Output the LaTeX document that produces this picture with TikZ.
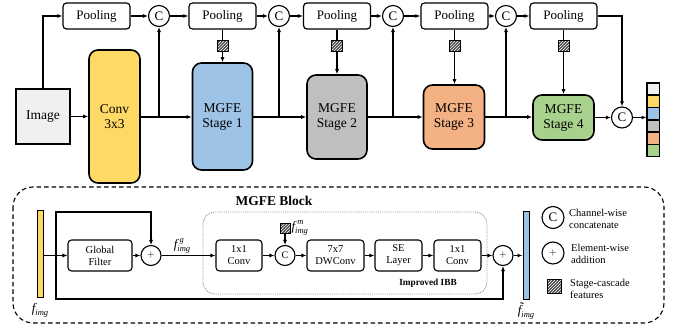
\documentclass[tikz,border=0pt]{standalone}
\usepackage{fontspec}
\setmainfont{Liberation Serif}
\usetikzlibrary{arrows.meta,patterns,positioning}
\definecolor{cyel}{HTML}{FFD966}
\definecolor{cblue}{HTML}{9DC3E6}
\definecolor{cgray}{HTML}{BFBFBF}
\definecolor{corange}{HTML}{F4B183}
\definecolor{cgreen}{HTML}{A9D18E}
\definecolor{cimg}{HTML}{F0F0F0}
\definecolor{cibb}{HTML}{8497B0}
\newcommand{\scrtxt}[1]{{\fontsize{8.5}{9}\selectfont\itshape #1}}
\newcommand{\fsub}[2]{{\itshape #1}\raisebox{-2.8pt}{\scrtxt{#2}}}
\newcommand{\fsubsup}[3]{{\itshape #1}\makebox[0pt][l]{\hspace{2.2pt}\raisebox{6pt}{\scrtxt{#2}}}\raisebox{-2.8pt}{\scrtxt{#3}}}
\tikzset{
  arr/.style={-{Latex[length=5pt,width=4pt]}, line width=1.1pt},
  ln/.style={line width=1.1pt},
  poolbox/.style={draw, line width=1.2pt, rounded corners=3.5pt, minimum width=67pt, minimum height=26pt, inner sep=0pt, font=\fontsize{13}{15}\selectfont},
  stagebox/.style={draw, line width=1.6pt, rounded corners=9pt, inner sep=0pt, align=center, font=\fontsize{13.5}{15}\selectfont},
  circ/.style={draw, circle, line width=1.1pt, minimum size=21pt, inner sep=0pt, font=\fontsize{13}{15}\selectfont},
  scirc/.style={draw, circle, line width=1.1pt, minimum size=20pt, inner sep=0pt, font=\fontsize{10}{12}\selectfont},
  hatch/.style={draw, line width=0.7pt, minimum size=11pt, inner sep=0pt, preaction={fill=black!70}, pattern=north east lines, pattern color=white},
  blk/.style={draw, line width=1.1pt, rounded corners=3.5pt, minimum height=31pt, inner sep=0pt, align=center, font=\fontsize{10.5}{12}\selectfont},
  cell/.style={draw, line width=0.8pt, minimum width=12pt, minimum height=11.5pt, inner sep=0pt},
  legtxt/.style={anchor=west, align=left, font=\fontsize{10.5}{12}\selectfont, inner sep=0pt},
  flab/.style={font=\fontsize{13}{14}\selectfont, inner sep=1pt},
}
\begin{document}
\begin{tikzpicture}[x=1pt,y=-1pt]
\useasboundingbox (0,0) rectangle (681,331);
% top row
\node[poolbox] (p1) at (96.5,16) {Pooling};
\node[poolbox] (p2) at (222.5,16) {Pooling};
\node[poolbox] (p3) at (337,16) {Pooling};
\node[poolbox] (p4) at (454.5,16) {Pooling};
\node[poolbox] (p5) at (563.5,16) {Pooling};
\node[circ] (c1) at (159,16) {C};
\node[circ] (c2) at (279,16) {C};
\node[circ] (c3) at (393,16) {C};
\node[circ] (c4) at (506,16) {C};
% main row
\node[draw, line width=1.4pt, fill=cimg, minimum width=54pt, minimum height=55pt, inner sep=0pt, font=\fontsize{13.5}{15}\selectfont] (img) at (43,116.5) {Image};
\node[stagebox, fill=cyel, minimum width=51pt, minimum height=133pt] (conv) at (114.5,116.5) {Conv\\3x3};
\node[stagebox, fill=cblue, minimum width=60pt, minimum height=107pt] (s1) at (222.5,116.5) {MGFE\\Stage 1};
\node[stagebox, fill=cgray, minimum width=60pt, minimum height=84pt] (s2) at (337,117) {MGFE\\Stage 2};
\node[stagebox, fill=corange, minimum width=61pt, minimum height=64pt] (s3) at (454,117) {MGFE\\Stage 3};
\node[stagebox, fill=cgreen, minimum width=61pt, minimum height=45pt] (s4) at (563.5,117.5) {MGFE\\Stage 4};
\node[circ] (cf) at (622,117.5) {C};
\node[hatch] (h1) at (222.5,46) {};
\node[hatch] (h2) at (337,46) {};
\node[hatch] (h3) at (454.5,46) {};
\node[hatch] (h4) at (563.5,46) {};
% output stack
\node[cell, fill=cimg] (o1) at (653,89) {};
\node[cell, fill=cyel, below=0pt of o1] (o2) {};
\node[cell, fill=cblue, below=0pt of o2] (o3) {};
\node[cell, fill=cgray, below=0pt of o3] (o4) {};
\node[cell, fill=corange, below=0pt of o4] (o5) {};
\node[cell, fill=cgreen, below=0pt of o5] (o6) {};
\draw[line width=1.4pt] (o1.north west) rectangle (o6.south east);
\coordinate (stk) at (o1.west |- cf);
% connectors top
\draw[arr] (img.north) |- (p1.west);
\draw[arr] (p1) -- (c1);
\draw[arr] (c1) -- (p2);
\draw[arr] (p2) -- (c2);
\draw[arr] (c2) -- (p3);
\draw[arr] (p3) -- (c3);
\draw[arr] (c3) -- (p4);
\draw[arr] (p4) -- (c4);
\draw[arr] (c4) -- (p5);
\draw[arr] (p5.east) -| (cf.north);
\foreach \p/\h/\s in {p2/h1/s1,p3/h2/s2,p4/h3/s3,p5/h4/s4}{
  \draw[ln] (\h.north |- \p.south) -- (\h.north);
  \draw[arr] (\h.south) -- (\h.south |- \s.north);
}
% main flow
\draw[arr] (img.east) -- (img.east -| conv.west);
\draw[arr] (conv.east |- 0,117) -- (s1.west |- 0,117);
\draw[arr] (s1.east |- 0,117) -- (s2.west |- 0,117);
\draw[arr] (s2.east |- 0,117) -- (s3.west |- 0,117);
\draw[arr] (s3.east |- 0,117) -- (s4.west |- 0,117);
\draw[arr] (s4.east |- cf) -- (cf.west);
\draw[arr] (cf.east) -- (stk);
\coordinate (b1) at (c1 |- 0,117);
\coordinate (b2) at (c2 |- 0,117);
\coordinate (b3) at (c3 |- 0,117);
\coordinate (b4) at (c4 |- 0,117);
\draw[arr] (b1) -- (c1.south);
\draw[arr] (b2) -- (c2.south);
\draw[arr] (b3) -- (c3.south);
\draw[arr] (b4) -- (c4.south);
% ================= bottom block
\draw[line width=1.1pt, dash pattern=on 4.5pt off 3pt, rounded corners=20pt] (13,187) rectangle (664,323);
\node[font=\bfseries\fontsize{13.5}{15}\selectfont] (title) at (274,201) {MGFE Block};
\draw[densely dotted, cibb, line width=0.9pt, rounded corners=12pt] (203,212) rectangle (487,294);
\node[font=\bfseries\fontsize{9.3}{11}\selectfont] (ibb) at (428,283) {Improved IBB};
\node[draw, line width=1pt, fill=cyel, minimum width=6pt, minimum height=87pt, inner sep=0pt] (fb) at (40,254.5) {};
\node[flab, anchor=north] (fbl) at (40,302) {\fsub{f}{img}};
\node[blk, minimum width=64pt] (gf) at (100,255.5) {Global\\Filter};
\node[scirc] (a1) at (151,255.5) {$+$};
\node[blk, minimum width=46pt] (k1) at (239,255.5) {1x1\\Conv};
\node[scirc] (cb) at (285,255.5) {C};
\node[blk, minimum width=57pt] (dw) at (335.5,255.5) {7x7\\DWConv};
\node[blk, minimum width=47pt] (se) at (398.5,255.5) {SE\\Layer};
\node[blk, minimum width=47pt] (k2) at (457.5,255.5) {1x1\\Conv};
\node[scirc] (a2) at (503,255.5) {$+$};
\node[draw, line width=1pt, fill=cblue, minimum width=6pt, minimum height=88pt, inner sep=0pt] (bb) at (526,256) {};
\node[flab, anchor=north] (bbl) at (526,302) {\fsub{\~{f}}{img}};
\node[hatch, minimum size=10pt] (hm) at (285,228) {};
\node[flab, anchor=west] (hml) at (hm.east) {\fsubsup{f}{m}{img}};
% bottom connectors
\coordinate (sp) at (56,255.5);
\draw[ln] (fb.east |- sp) -- (sp);
\draw[arr] (sp) -- (gf.west);
\draw[arr] (sp) |- (110,212) -| (a1.north);
\draw[arr] (sp) |- (300,299) -| (a2.south);
\draw[arr] (gf) -- (a1);
\node[flab] (fgl) at (182,246) {\fsubsup{f}{g}{img}};
\draw[arr] (a1) -- (k1);
\draw[arr] (k1) -- (cb);
\draw[arr] (cb) -- (dw);
\draw[arr] (dw) -- (se);
\draw[arr] (se) -- (k2);
\draw[arr] (k2) -- (a2);
\draw[arr] (a2) -- (a2 -| bb.west);
\draw[arr] (hm.south) -- (cb.north);
% legend
\node[circ, minimum size=22pt] (lc) at (553,217.5) {C};
\node[legtxt] (lct) at (569,219) {Channel-wise\\concatenate};
\node[scirc, minimum size=22pt] (lp) at (553,253) {$+$};
\node[legtxt] (lpt) at (571,254) {Element-wise\\addition};
\node[hatch, minimum size=14pt] (lh) at (554.5,286.5) {};
\node[legtxt] (lht) at (570,289) {Stage-cascade\\features};
\end{tikzpicture}
\end{document}
